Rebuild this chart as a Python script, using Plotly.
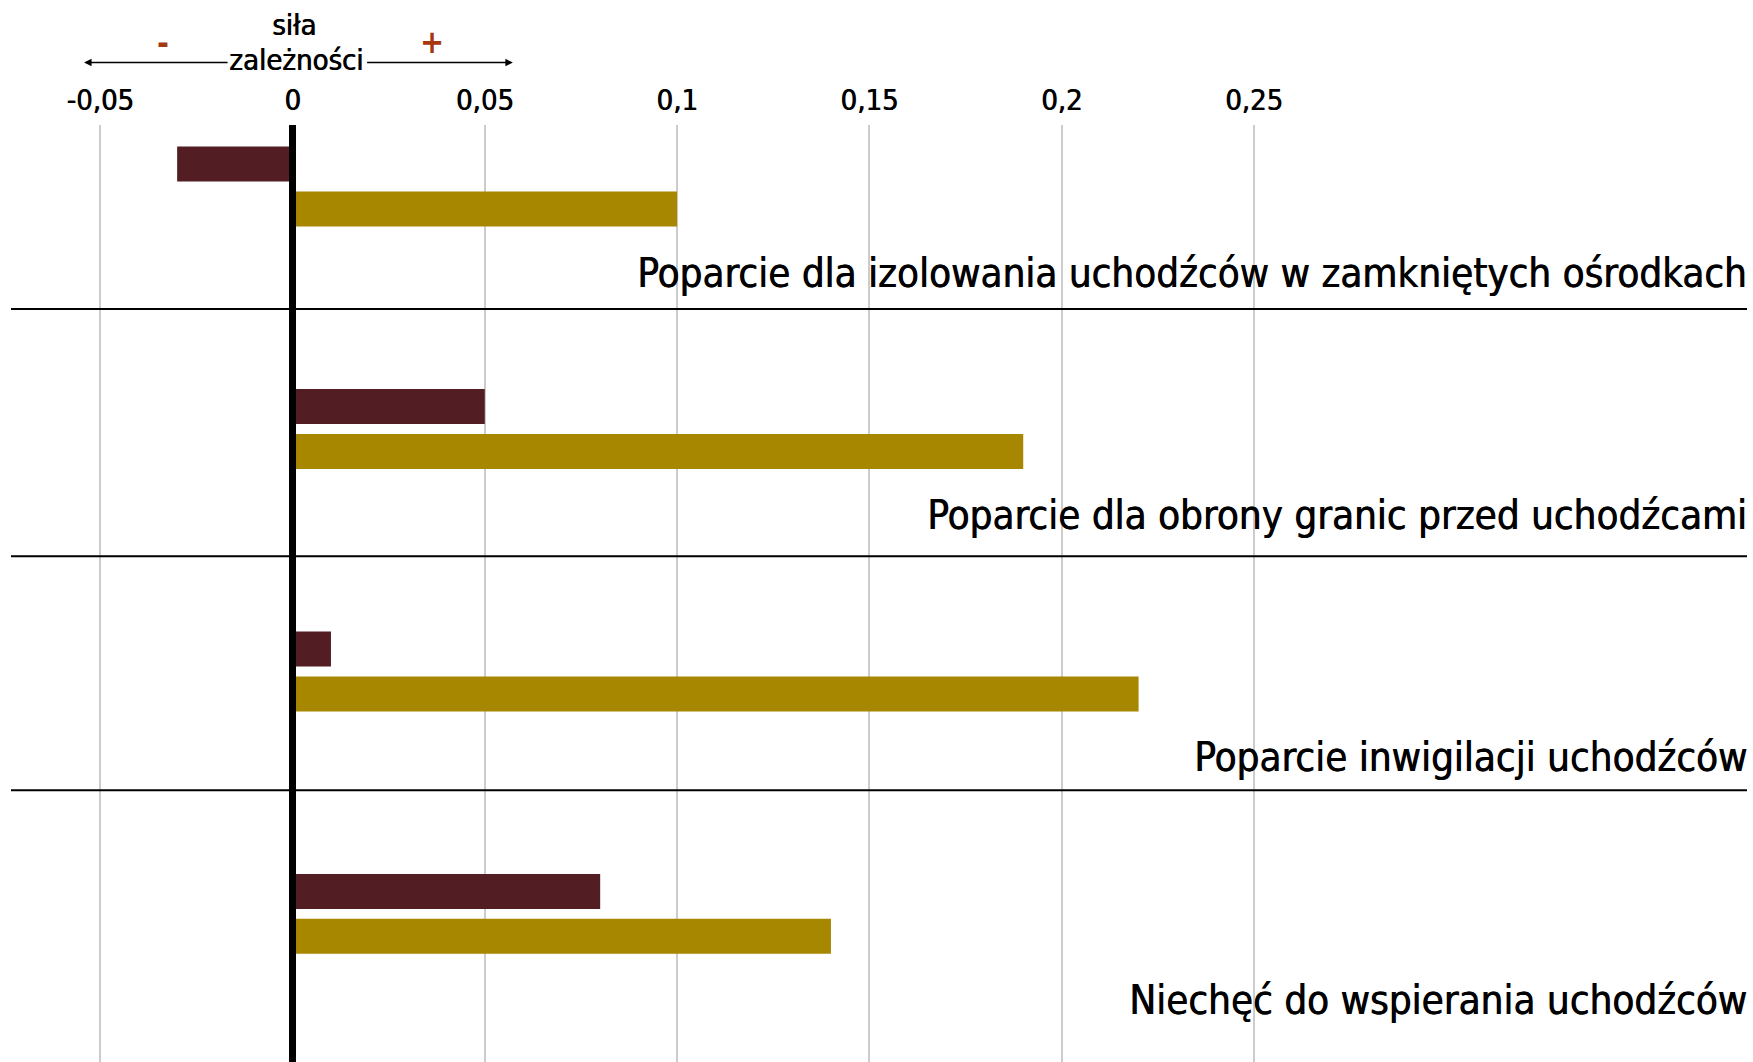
import plotly.graph_objects as go

# Dane: siła zależności dla czterech postaw wobec uchodźców
categories = [
    "Poparcie dla izolowania uchodźców w zamkniętych ośrodkach",
    "Poparcie dla obrony granic przed uchodźcami",
    "Poparcie inwigilacji uchodźców",
    "Niechęć do wspierania uchodźców",
]
series_a = [-0.03, 0.05, 0.01, 0.08]
series_b = [0.10, 0.19, 0.22, 0.14]

tick_vals = [-0.05, 0, 0.05, 0.1, 0.15, 0.2, 0.25]
tick_text = ["-0,05", "0", "0,05", "0,1", "0,15", "0,2", "0,25"]

FONT = "Liberation Sans Narrow, DejaVu Sans Condensed, Arial Narrow, sans-serif"
COL_A = "#521e24"
COL_B = "#a78600"
SIGN_COL = "#a5380f"
# slight horizontal shadow gives the condensed face a medium weight
HEAVY = "0.7px 0px 0px #000000"

fig = go.Figure()
fig.add_trace(go.Bar(y=categories, x=series_a, orientation="h",
                     marker=dict(color=COL_A, line=dict(width=0)),
                     name="A", showlegend=False))
fig.add_trace(go.Bar(y=categories, x=series_b, orientation="h",
                     marker=dict(color=COL_B, line=dict(width=0)),
                     name="B", showlegend=False))

# category labels below each group, right-aligned
annotations = []
for cat in categories:
    annotations.append(dict(
        x=1, xref="paper", xanchor="right", xshift=2,
        y=cat, yref="y", yanchor="middle", yshift=-86,
        text=cat, showarrow=False,
        font=dict(family=FONT, size=40, color="#000000", shadow=HEAVY),
    ))

# header: "siła zależności" with direction arrows
annotations += [
    dict(x=0.0005, xref="x", y=1.1072, yref="paper", text="siła", showarrow=False,
         font=dict(family=FONT, size=29, color="#000000", shadow=HEAVY),
         xanchor="center", yanchor="middle"),
    dict(x=0.001, xref="x", y=1.0694, yref="paper", text="zależności", showarrow=False,
         font=dict(family=FONT, size=29, color="#000000", shadow=HEAVY),
         xanchor="center", yanchor="middle"),
    dict(x=-0.0338, xref="x", y=1.0870, yref="paper", text="<b>-</b>", showarrow=False,
         font=dict(family=FONT, size=32, color=SIGN_COL), xanchor="center", yanchor="middle"),
    dict(x=0.0363, xref="x", y=1.0885, yref="paper", text="<b>+</b>", showarrow=False,
         font=dict(family=FONT, size=32, color=SIGN_COL), xanchor="center", yanchor="middle"),
    dict(x=-0.0542, xref="x", y=1.0666, yref="paper", ax=-0.0165, axref="x", ay=0, ayref="pixel",
         text="", showarrow=True, arrowhead=2, arrowsize=1, arrowwidth=1.5, arrowcolor="#000000"),
    dict(x=0.0573, xref="x", y=1.0666, yref="paper", ax=0.0190, axref="x", ay=0, ayref="pixel",
         text="", showarrow=True, arrowhead=2, arrowsize=1, arrowwidth=1.5, arrowcolor="#000000"),
]

shapes = []
# separators between groups
for yv in [0.505, 1.525, 2.49]:
    shapes.append(dict(type="line", xref="paper", x0=0, x1=1, yref="y", y0=yv, y1=yv,
                       line=dict(color="#000000", width=2), layer="above"))
# thick zero line on top of the bars
shapes.append(dict(type="line", xref="x", x0=0, x1=0, yref="paper", y0=0, y1=1,
                   line=dict(color="#000000", width=7), layer="above"))

fig.update_layout(
    width=1753, height=1062,
    margin=dict(l=11, r=6, t=125, b=0),
    paper_bgcolor="#ffffff", plot_bgcolor="#ffffff",
    barmode="group", bargap=0.629, bargroupgap=0.222,
    font=dict(family=FONT, color="#000000"),
    annotations=annotations, shapes=shapes,
    xaxis=dict(
        side="top", range=[-0.0732, 0.3782],
        tickvals=tick_vals, ticktext=tick_text,
        tickfont=dict(family=FONT, size=29, color="#000000", shadow=HEAVY),
        showgrid=True, gridcolor="#cccccc", gridwidth=2,
        zeroline=False, showline=False, ticks="", ticklabelstandoff=8,
    ),
    yaxis=dict(
        categoryorder="array", categoryarray=categories,
        range=[3.611, -0.254], showticklabels=False, showgrid=False,
        zeroline=False, showline=False, ticks="",
    ),
)

fig.write_html("out.html")
